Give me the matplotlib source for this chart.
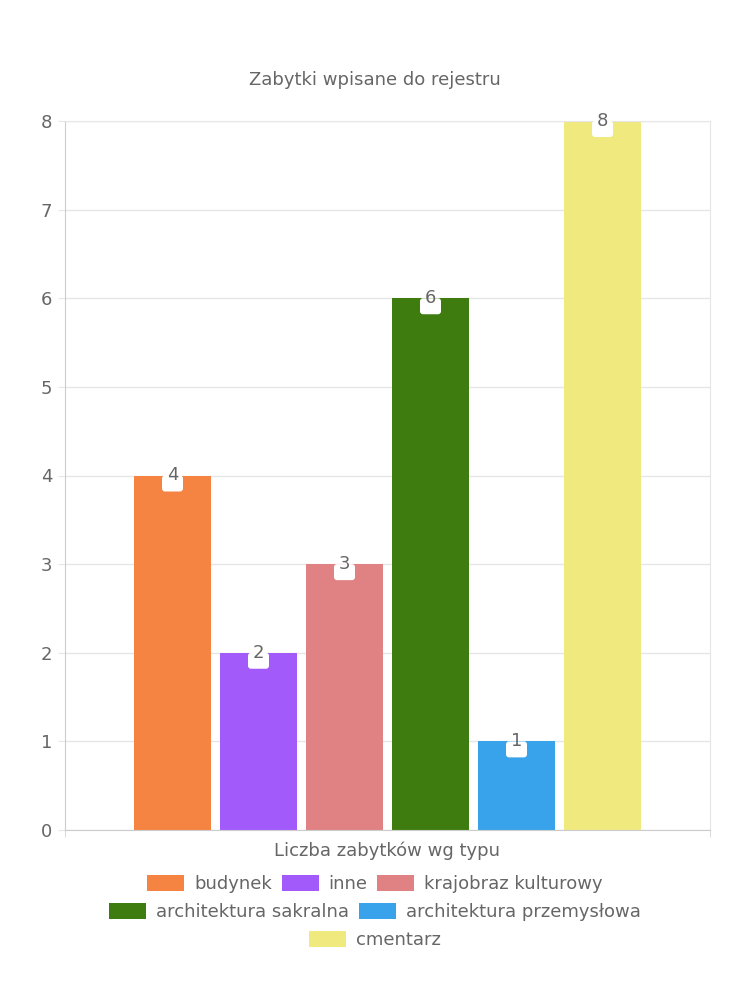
import matplotlib.pyplot as plt
import matplotlib.patches as mpatches
import matplotlib.transforms as mtransforms
import numpy as np

title = 'Zabytki wpisane do rejestru'
xlabel = 'Liczba zabytków wg typu'
series = ['budynek', 'inne', 'krajobraz kulturowy', 'architektura sakralna',
          'architektura przemysłowa', 'cmentarz']
values = [4, 2, 3, 6, 1, 8]
colors = ['#f58442', '#a25afa', '#e08283', '#3f7c0f', '#38a3ea', '#f0ea7e']
legend_rows = [[0, 1, 2], [3, 4], [5]]

TXT = '#666666'
plt.rcParams['font.family'] = ['DejaVu Sans']

fig = plt.figure(figsize=(7.5, 10), dpi=100)
ax = fig.add_axes([65 / 750, 0.17, 645 / 750, 0.709])

step = 86 / 645
width = 77 / 645
bars = []
for i, (name, v, c) in enumerate(zip(series, values, colors)):
    x = (i - 2.5) * step
    b = ax.bar(x, v, width=width, color=c, label=name, zorder=2)
    bars.append(b[0])
    # white rounded label box at bar top
    off = mtransforms.ScaledTranslation(x, v, ax.transData)
    box = mpatches.FancyBboxPatch((-10.5, -16), 21, 16,
                                  boxstyle='round,pad=0,rounding_size=3',
                                  fc='white', ec='none',
                                  transform=mtransforms.IdentityTransform() + off,
                                  zorder=3, clip_on=False)
    ax.add_patch(box)
    ax.annotate(str(v), (x, v), xytext=(0, 0), textcoords='offset points',
                ha='center', va='center', fontsize=13, color=TXT, zorder=4)

ax.set_xlim(-0.5, 0.5)
ax.set_ylim(0, 8)
ax.set_yticks(range(0, 9))
ax.set_xticks([-0.5, 0.5])
ax.set_xticklabels(['', ''])
ax.grid(axis='y', color='#e6e6e6', lw=1, zorder=0)
ax.tick_params(axis='y', length=5, color='#e6e6e6', labelcolor=TXT, labelsize=13, pad=4)
ax.tick_params(axis='x', length=5, color='#dddddd')
for s in ['left', 'bottom']:
    ax.spines[s].set_color('#cccccc')
for s in ['right', 'top']:
    ax.spines[s].set_color('#e6e6e6')
ax.set_xlabel(xlabel, fontsize=13, color=TXT, labelpad=0)

fig.text(0.5, 0.92, title, ha='center', va='center', fontsize=13, color=TXT)

for r, row in enumerate(legend_rows):
    leg = fig.legend([bars[i] for i in row], [series[i] for i in row],
                     loc='center', bbox_to_anchor=(0.5, 1 - (884 + 28 * r) / 1000),
                     ncol=len(row), frameon=False, fontsize=13,
                     handlelength=2.05, handleheight=0.95, handletextpad=0.55,
                     columnspacing=0.55, borderpad=0, labelcolor=TXT)

fig.savefig('out.png', dpi=100)
